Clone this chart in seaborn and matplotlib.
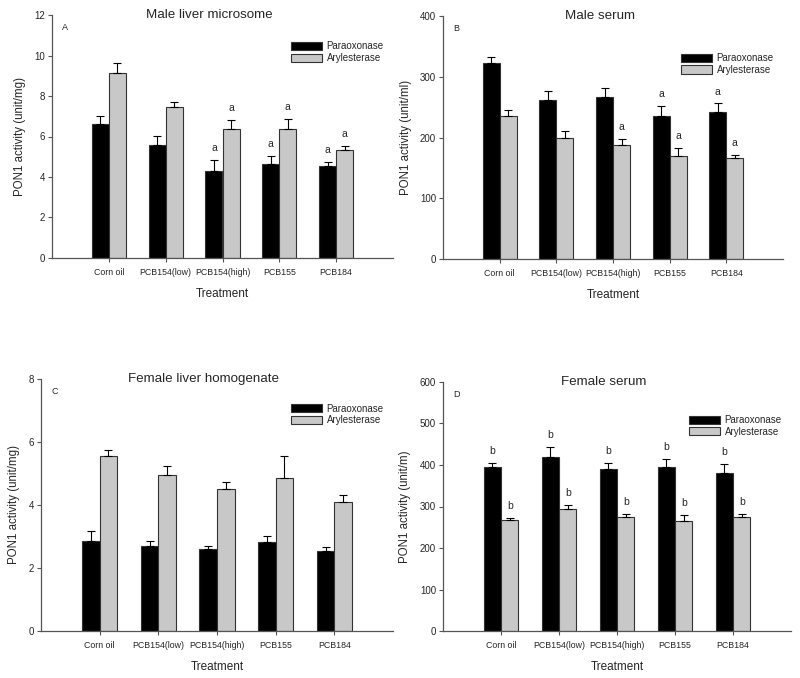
import numpy as np
import pandas as pd
import seaborn as sns
import matplotlib.pyplot as plt
from matplotlib.patches import Patch

# treatments on the x axis
treatments = ['Corn oil', 'PCB154(low)', 'PCB154(high)', 'PCB155', 'PCB184']
enzymes = ['Paraoxonase', 'Arylesterase']

# A - male liver microsome (unit/mg)
a_para = [6.61, 5.56, 4.28, 4.64, 4.54]
a_para_err = [0.38, 0.48, 0.57, 0.39, 0.20]
a_aryl = [9.13, 7.48, 6.36, 6.36, 5.33]
a_aryl_err = [0.49, 0.22, 0.47, 0.50, 0.20]
a_para_sig = ['', '', 'a', 'a', 'a']
a_aryl_sig = ['', '', 'a', 'a', 'a']

# B - male serum (unit/ml)
b_para = [323, 262, 266, 236, 242]
b_para_err = [9, 15, 16, 16, 14]
b_aryl = [235, 199, 187, 170, 166]
b_aryl_err = [11, 11, 10, 12, 6]
b_para_sig = ['', '', '', 'a', 'a']
b_aryl_sig = ['', '', 'a', 'a', 'a']

# C - female liver homogenate (unit/mg)
c_para = [2.85, 2.70, 2.61, 2.82, 2.53]
c_para_err = [0.33, 0.16, 0.08, 0.19, 0.14]
c_aryl = [5.57, 4.96, 4.50, 4.86, 4.09]
c_aryl_err = [0.17, 0.27, 0.22, 0.71, 0.22]

# D - female serum (unit/m)
d_para = [396, 420, 391, 394, 381]
d_para_err = [10, 24, 15, 20, 22]
d_aryl = [268, 293, 274, 264, 274]
d_aryl_err = [4, 10, 9, 16, 9]
d_para_sig = ['b', 'b', 'b', 'b', 'b']
d_aryl_sig = ['b', 'b', 'b', 'b', 'b']

sns.set_style('white')
plt.rcParams['font.family'] = ['Liberation Sans', 'DejaVu Sans']

fig = plt.figure(figsize=(8, 6.78), dpi=100)

W, H = 800, 678
def make_ax(left, right, top, bottom):
    return fig.add_axes([left / W, 1 - bottom / H, (right - left) / W, (bottom - top) / H])

panels = [
    dict(ax=make_ax(52, 393, 15, 258), letter='A', title='Male liver microsome',
         ylabel='PON1 activity (unit/mg)', ymax=12, ystep=2,
         para=a_para, pe=a_para_err, aryl=a_aryl, ae=a_aryl_err,
         ps=a_para_sig, as_=a_aryl_sig, leg=(0.99, 0.915)),
    dict(ax=make_ax(443, 783, 16, 259), letter='B', title='Male serum',
         ylabel='PON1 activity (unit/ml)', ymax=400, ystep=100,
         para=b_para, pe=b_para_err, aryl=b_aryl, ae=b_aryl_err,
         ps=b_para_sig, as_=b_aryl_sig, leg=(0.99, 0.87)),
    dict(ax=make_ax(41, 393, 379, 631), letter='C', title='Female liver homogenate',
         ylabel='PON1 activity (unit/mg)', ymax=8, ystep=2,
         para=c_para, pe=c_para_err, aryl=c_aryl, ae=c_aryl_err,
         ps=None, as_=None, leg=(0.99, 0.925)),
    dict(ax=make_ax(443, 791, 382, 631), letter='D', title='Female serum',
         ylabel='PON1 activity (unit/m)', ymax=600, ystep=100,
         para=d_para, pe=d_para_err, aryl=d_aryl, ae=d_aryl_err,
         ps=d_para_sig, as_=d_aryl_sig, leg=(0.99, 0.89)),
]

colors = ['black', '#c8c8c8']
spine_col = '#555555'

for p in panels:
    ax = p['ax']
    df = pd.DataFrame({
        'Treatment': treatments * 2,
        'value': p['para'] + p['aryl'],
        'Enzyme': [enzymes[0]] * 5 + [enzymes[1]] * 5,
    })
    sns.barplot(data=df, x='Treatment', y='value', hue='Enzyme', palette=colors,
                width=0.6, edgecolor='#333333', linewidth=0.8, errorbar=None,
                ax=ax, legend=False)
    xs = np.arange(len(treatments))
    for off, vals, errs, sig in [(-0.15, p['para'], p['pe'], p['ps']),
                                 (0.15, p['aryl'], p['ae'], p['as_'])]:
        ax.errorbar(xs + off, vals, yerr=[np.zeros(5), errs], fmt='none',
                    ecolor='black', elinewidth=0.8, capsize=3, capthick=0.8)
        if sig:
            for x, v, e, s in zip(xs + off, vals, errs, sig):
                if s:
                    ax.annotate(s, (x, v + e), xytext=(0, 5), textcoords='offset points',
                                ha='center', va='bottom', fontsize=7.5)

    ax.set_xlim(-1, 5)
    ax.set_ylim(0, p['ymax'])
    ax.set_yticks(np.arange(0, p['ymax'] + 0.001, p['ystep']))
    ax.set_xticks(xs)
    ax.set_xticklabels(treatments, fontsize=6.3)
    ax.tick_params(axis='y', labelsize=7, length=3, width=0.8, color=spine_col,
                   direction='out', left=True, pad=2)
    ax.tick_params(axis='x', length=3, width=0.8, color=spine_col,
                   direction='out', bottom=True, pad=4)
    ax.set_xlabel('Treatment', fontsize=8.5, labelpad=8)
    ax.set_ylabel(p['ylabel'], fontsize=8.3, labelpad=6)
    for side in ['top', 'right']:
        ax.spines[side].set_visible(False)
    for side in ['left', 'bottom']:
        ax.spines[side].set_color(spine_col)
        ax.spines[side].set_linewidth(0.9)

    ax.text(0.462, 1.0, p['title'], transform=ax.transAxes, ha='center',
            va='center', fontsize=9.6)
    ax.text(0.03, 0.95, p['letter'], transform=ax.transAxes, ha='left',
            va='center', fontsize=6.5)

    handles = [Patch(facecolor=c, edgecolor='#333333', linewidth=0.8) for c in colors]
    ax.legend(handles, enzymes, loc='upper right', bbox_to_anchor=p['leg'],
              frameon=False, fontsize=7, handlelength=3.2, handleheight=0.9,
              labelspacing=0.15, handletextpad=0.5, borderpad=0.1)

fig.savefig('out.png', dpi=100)
